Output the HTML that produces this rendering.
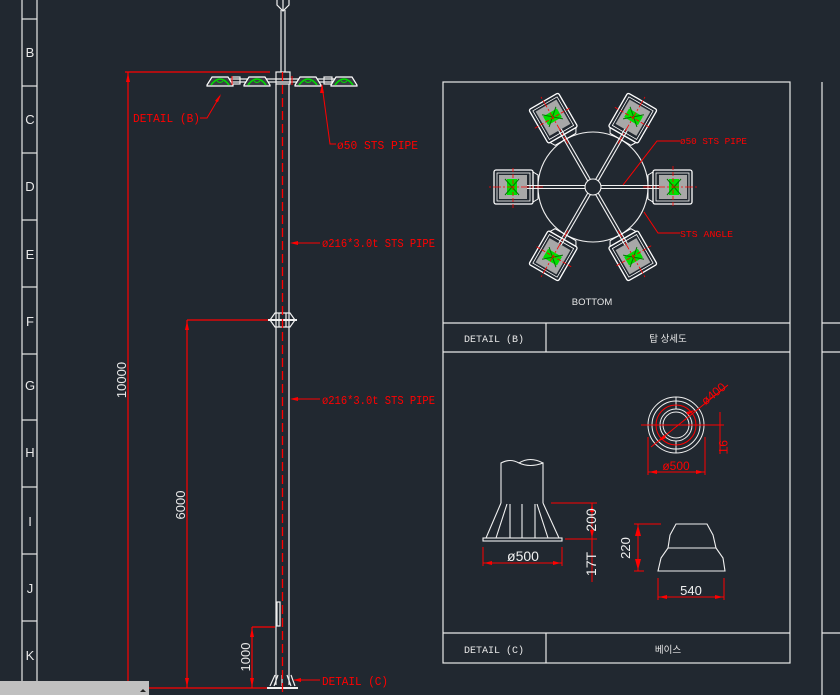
<!DOCTYPE html>
<html><head><meta charset="utf-8"><style>
html,body{margin:0;padding:0;background:#212830;}
svg{display:block;font-family:"Liberation Sans","Noto Sans CJK KR",sans-serif;}
</style></head><body>
<svg width="840" height="695" viewBox="0 0 840 695" xmlns="http://www.w3.org/2000/svg">
<defs>
<g id="lampE">
  <path d="M-13 11 L-8 3 L8 3 L13 11 L13 12 L-13 12 Z" fill="#3a3f45" stroke="#fff" stroke-width="1.2"/>
  <path d="M-9 11 Q0 -1 9 11" fill="none" stroke="#00dd00" stroke-width="1.6"/>
  <path d="M-3 7 Q0 10 3 7" fill="none" stroke="#00dd00" stroke-width="1"/>
</g>
<g id="lampT">
  <path d="M55 -12 L60 -15 L60 15 L55 12 Z" fill="none" stroke="#fff" stroke-width="1"/>
  <rect x="60" y="-17" width="39" height="34" rx="2" fill="none" stroke="#fff" stroke-width="1.3"/>
  <rect x="63" y="-14" width="33" height="28" fill="none" stroke="#fff" stroke-width="0.8"/>
  <rect x="66" y="-12" width="28" height="24" fill="#a8a8a8"/>
  <rect x="76" y="-8" width="10" height="16" fill="#00e000"/>
  <path d="M74 -8 L88 8 M74 8 L88 -8" stroke="#007700" stroke-width="1"/>
  <line x1="50" y1="0" x2="104" y2="0" stroke="#ff0000" stroke-width="0.8" stroke-dasharray="8 2 2 2"/>
  <line x1="80" y1="-21" x2="80" y2="21" stroke="#ff0000" stroke-width="0.8" stroke-dasharray="4 2"/>
</g>
</defs>

<g stroke="#e8e8e8" stroke-width="1.2" fill="none">
<line x1="22" y1="0" x2="22" y2="695"/><line x1="37" y1="0" x2="37" y2="695"/>
<line x1="22" y1="19" x2="37" y2="19"/><line x1="22" y1="86" x2="37" y2="86"/>
<line x1="22" y1="153" x2="37" y2="153"/><line x1="22" y1="220" x2="37" y2="220"/>
<line x1="22" y1="287" x2="37" y2="287"/><line x1="22" y1="354" x2="37" y2="354"/>
<line x1="22" y1="420" x2="37" y2="420"/><line x1="22" y1="487" x2="37" y2="487"/>
<line x1="22" y1="554" x2="37" y2="554"/><line x1="22" y1="621" x2="37" y2="621"/>
<line x1="22" y1="688" x2="37" y2="688"/>
</g>
<g fill="#e8e8e8" font-size="13" text-anchor="middle">
<text x="30" y="57">B</text><text x="30" y="124">C</text><text x="30" y="191">D</text>
<text x="30" y="259">E</text><text x="30" y="326">F</text><text x="30" y="390">G</text>
<text x="30" y="457">H</text><text x="30" y="526">I</text><text x="30" y="593">J</text>
<text x="30" y="660">K</text>
</g>

<g stroke="#ff0000" stroke-width="1.2" fill="none">
<line x1="128" y1="72" x2="128" y2="690"/><line x1="125" y1="72" x2="270" y2="72"/>
<line x1="187" y1="320" x2="187" y2="688"/><line x1="187" y1="320" x2="270" y2="320"/>
<line x1="252" y1="627" x2="252" y2="688"/><line x1="252" y1="627" x2="275" y2="627"/>
<line x1="128" y1="688" x2="268" y2="688"/>
</g>
<g fill="#ff0000">
<path d="M128 73 L126 82 L130 82Z"/><path d="M187 321 L185 330 L189 330Z"/>
<path d="M187 687 L185 678 L189 678Z"/><path d="M252 628 L250 637 L254 637Z"/><path d="M252 687 L250 678 L254 678Z"/>
</g>
<g fill="#e8e8e8" font-size="13">
<text transform="translate(126,380) rotate(-90)" text-anchor="middle">10000</text>
<text transform="translate(185,505) rotate(-90)" text-anchor="middle">6000</text>
<text transform="translate(250,657) rotate(-90)" text-anchor="middle">1000</text>
</g>

<g stroke="#f0f0f0" stroke-width="1.2" fill="none">
<line x1="281" y1="10" x2="281" y2="72"/><line x1="285" y1="10" x2="285" y2="72"/>
<path d="M277 0 L277 5 L283 11 L289 5 L289 0 M283 0 L283 11"/>
<rect x="276" y="72" width="14" height="12"/>
<line x1="276" y1="84" x2="276" y2="685"/><line x1="289" y1="84" x2="289" y2="685"/>
<line x1="228" y1="79" x2="340" y2="79"/><line x1="228" y1="82" x2="340" y2="82"/>
<rect x="232" y="77" width="8" height="7"/><rect x="324" y="77" width="8" height="7"/>
<rect x="277" y="602" width="3" height="24"/>
<path d="M270 320 L275 313 L290 313 L295 320 L290 327 L275 327Z"/>
<line x1="268" y1="320" x2="297" y2="320" stroke-width="2"/>
<line x1="279" y1="313" x2="279" y2="327"/><line x1="286" y1="313" x2="286" y2="327"/>
<path d="M270 686 L275 675 M274 686 L278 675 M291 686 L287 675 M295 686 L291 675 M282 686 L282 675"/>
<line x1="267" y1="688" x2="298" y2="688" stroke-width="2"/>
</g>
<line x1="282.5" y1="72" x2="282.5" y2="695" stroke="#ff0000" stroke-width="1.3" stroke-dasharray="9 4"/>
<use href="#lampE" x="220" y="74"/><use href="#lampE" x="257" y="74"/>
<use href="#lampE" x="308" y="74"/><use href="#lampE" x="344" y="74"/>
<g stroke="#ff0000" fill="none" stroke-width="1">
<line x1="232" y1="76" x2="232" y2="85"/><line x1="292" y1="76" x2="292" y2="85"/>
</g>

<g stroke="#ff0000" stroke-width="1" fill="none">
<path d="M200 118 L207 118 L220 96"/>
<path d="M322 85 L330 144 L336 144"/>
<line x1="292" y1="243" x2="320" y2="243"/>
<line x1="292" y1="399" x2="320" y2="399"/>
<line x1="294" y1="680" x2="320" y2="680"/>
</g>
<g fill="#ff0000">
<path d="M221 94 L215 101 L218 102Z"/><path d="M322 84 L320 93 L324 93Z"/>
<path d="M290 243 L298 241 L298 245Z"/><path d="M290 399 L298 397 L298 401Z"/><path d="M293 680 L301 678 L301 682Z"/>
</g>
<g fill="#ff0000" font-size="11.5" font-family="Liberation Mono, monospace">
<text x="133" y="122" textLength="67" lengthAdjust="spacingAndGlyphs">DETAIL (B)</text>
<text x="337" y="149" textLength="81" lengthAdjust="spacingAndGlyphs">ø50 STS PIPE</text>
<text x="322" y="247" textLength="113" lengthAdjust="spacingAndGlyphs">ø216*3.0t STS PIPE</text>
<text x="322" y="404" textLength="113" lengthAdjust="spacingAndGlyphs">ø216*3.0t STS PIPE</text>
<text x="322" y="685" textLength="66" lengthAdjust="spacingAndGlyphs">DETAIL (C)</text>
</g>

<rect x="0" y="681" width="149" height="14" fill="#c0c0c0"/>
<path d="M140 692 L143 689 L146 692Z" fill="#222"/>

<g stroke="#e8e8e8" stroke-width="1.2" fill="none">
<rect x="443" y="82" width="347" height="581"/>
<line x1="443" y1="323" x2="790" y2="323"/><line x1="443" y1="352" x2="790" y2="352"/>
<line x1="443" y1="633" x2="790" y2="633"/>
<line x1="546" y1="323" x2="546" y2="352"/><line x1="546" y1="633" x2="546" y2="663"/>
<path d="M822 82 L822 695 M822 323 L840 323 M822 352 L840 352 M822 633 L840 633"/>
</g>
<g fill="#e8e8e8" font-size="10" text-anchor="middle" font-family="Liberation Mono, monospace">
<text x="494" y="342">DETAIL (B)</text><text x="494" y="653">DETAIL (C)</text>
</g>
<g fill="#e8e8e8" font-size="9.5" text-anchor="middle">
<text x="668" y="342">탑 상세도</text><text x="668" y="653">베이스</text>
<text x="592" y="305">BOTTOM</text>
</g>

<g stroke="#f0f0f0" stroke-width="1.1" fill="none">
<circle cx="593" cy="187" r="55"/>
<circle cx="593" cy="187" r="8"/>
<g id="arm"><line x1="601" y1="185.5" x2="680" y2="185.5"/><line x1="601" y1="188.5" x2="680" y2="188.5"/></g>
<use href="#arm" transform="rotate(60 593 187)"/><use href="#arm" transform="rotate(120 593 187)"/>
<use href="#arm" transform="rotate(180 593 187)"/><use href="#arm" transform="rotate(240 593 187)"/>
<use href="#arm" transform="rotate(300 593 187)"/>
</g>
<g transform="translate(593 187)">
<use href="#lampT"/><use href="#lampT" transform="rotate(60)"/><use href="#lampT" transform="rotate(120)"/>
<use href="#lampT" transform="rotate(180)"/><use href="#lampT" transform="rotate(240)"/><use href="#lampT" transform="rotate(300)"/>
</g>
<g stroke="#ff0000" stroke-width="1" fill="none">
<path d="M623 185 L657 141 L680 141"/><path d="M644 212 L658 233 L680 233"/>
</g>
<g fill="#ff0000" font-size="9.5" font-family="Liberation Mono, monospace">
<text x="680" y="144" textLength="67" lengthAdjust="spacingAndGlyphs">ø50 STS PIPE</text>
<text x="680" y="237" textLength="53" lengthAdjust="spacingAndGlyphs">STS ANGLE</text>
</g>

<g stroke="#f0f0f0" stroke-width="1.1" fill="none">
<path d="M501 503 L501 463 Q510 458 519 463 Q530 468 543 463 L543 503"/>
<path d="M519 463 Q530 456 543 463"/>
<rect x="483" y="538" width="79" height="3"/>
<path d="M486 538 L501 503 M496 538 L507 504 M510 538 L510 504 M522 538 L522 504 M535 538 L535 504 M548 538 L537 504 M559 538 L543 503"/>
</g>
<g stroke="#ff0000" stroke-width="1" fill="none">
<line x1="483" y1="547" x2="483" y2="566"/><line x1="562" y1="547" x2="562" y2="566"/>
<line x1="483" y1="563" x2="562" y2="563"/>
<line x1="551" y1="503" x2="597" y2="503"/><line x1="565" y1="539" x2="597" y2="539"/>
<line x1="592" y1="503" x2="592" y2="582"/>
</g>
<g fill="#ff0000"><path d="M484 563 L492 561 L492 565Z"/><path d="M561 563 L553 561 L553 565Z"/>
<path d="M592 504 L590 512 L594 512Z"/><path d="M592 538 L590 530 L594 530Z"/></g>
<g fill="#f0f0f0" font-size="14">
<text x="523" y="561" text-anchor="middle">ø500</text>
<text transform="translate(596,520) rotate(-90)" text-anchor="middle">200</text>
<text transform="translate(596,564) rotate(-90)" text-anchor="middle">17T</text>
</g>

<g stroke="#f0f0f0" stroke-width="1" fill="none">
<circle cx="676" cy="425" r="28"/><circle cx="676" cy="425" r="24"/>
<circle cx="676" cy="425" r="16"/><circle cx="676" cy="425" r="13"/>
<path d="M676 397 L676 409 M676 441 L676 453 M648 425 L660 425 M692 425 L704 425"/>
</g>
<g stroke="#ff0000" stroke-width="1" fill="none">
<circle cx="676" cy="425" r="20"/>
<line x1="651" y1="447" x2="728" y2="385"/>
<line x1="641" y1="425" x2="717" y2="425"/>
<line x1="648" y1="437" x2="648" y2="475"/><line x1="705" y1="437" x2="705" y2="475"/>
<line x1="648" y1="472" x2="705" y2="472"/>
<line x1="720" y1="412" x2="720" y2="454"/><line x1="714" y1="425" x2="724" y2="425"/>
</g>
<g fill="#ff0000"><path d="M649 472 L657 470 L657 474Z"/><path d="M704 472 L696 470 L696 474Z"/>
<path d="M657 442 L664 435 L666 438Z"/><path d="M695 410 L688 415 L686 412Z"/></g>
<g fill="#ff0000" font-size="12">
<text x="676" y="470" text-anchor="middle">ø500</text>
<text transform="translate(716,397) rotate(-39)" text-anchor="middle">ø400</text>
<text transform="translate(719,447) rotate(90)" text-anchor="middle">9T</text>
</g>

<g stroke="#f0f0f0" stroke-width="1.1" fill="none">
<path d="M658 571 L661 558 L668 548 L670 535 L676 524 L707 524 L713 535 L716 548 L723 558 L725 571 Z"/>
<line x1="668" y1="548" x2="716" y2="548"/>
</g>
<g stroke="#ff0000" stroke-width="1" fill="none">
<line x1="634" y1="524" x2="661" y2="524"/><line x1="634" y1="571" x2="644" y2="571"/>
<line x1="638" y1="524" x2="638" y2="571"/>
<line x1="658" y1="578" x2="658" y2="600"/><line x1="724" y1="578" x2="724" y2="600"/>
<line x1="658" y1="597" x2="724" y2="597"/>
</g>
<g fill="#ff0000"><path d="M638 525 L635 536 L641 536Z"/><path d="M638 570 L635 559 L641 559Z"/>
<path d="M659 597 L667 595 L667 599Z"/><path d="M723 597 L715 595 L715 599Z"/></g>
<g fill="#f0f0f0" font-size="13">
<text transform="translate(630,548) rotate(-90)" text-anchor="middle">220</text>
<text x="691" y="595" text-anchor="middle">540</text>
</g>
</svg>
</body></html>
